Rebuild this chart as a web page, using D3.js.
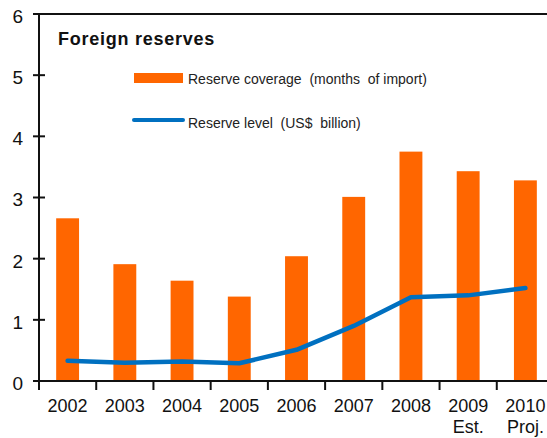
<!DOCTYPE html>
<html>
<head>
<meta charset="utf-8">
<script src="https://cdn.jsdelivr.net/npm/d3@7"></script>
<style>
  html, body { margin: 0; padding: 0; background: #fff; }
  svg { display: block; font-family: "Liberation Sans", Arial, sans-serif; }
</style>
</head>
<body>
<svg id="chart" width="547" height="438"></svg>
<script>
// Foreign reserves: import coverage (bars) and reserve level (line)
const years = ["2002", "2003", "2004", "2005", "2006", "2007", "2008", "2009", "2010"];
const yearNotes = ["", "", "", "", "", "", "", "Est.", "Proj."];
const coverage = [2.66, 1.91, 1.64, 1.38, 2.04, 3.01, 3.75, 3.43, 3.28];
const level = [0.33, 0.30, 0.32, 0.29, 0.51, 0.90, 1.37, 1.40, 1.52];
const yTicks = [0, 1, 2, 3, 4, 5, 6];

const svg = d3.select("#chart");
const plotLeft = 39, plotRight = 554, plotTop = 14, plotBottom = 381;

const x = d3.scaleBand().domain(years).range([plotLeft, plotRight]).paddingInner(0).paddingOuter(0);
const y = d3.scaleLinear().domain([0, 6]).range([plotBottom, plotTop]);
const barW = x.bandwidth() * 0.4;

// top frame line
svg.append("line")
  .attr("x1", plotLeft).attr("x2", 547).attr("y1", plotTop).attr("y2", plotTop)
  .attr("stroke", "#111").attr("stroke-width", 2);

// bars
svg.append("g").selectAll("rect").data(years).join("rect")
  .attr("x", (d) => x(d) + x.bandwidth() / 2 - barW / 2)
  .attr("width", barW)
  .attr("y", (d, i) => y(coverage[i]))
  .attr("height", (d, i) => y(0) - y(coverage[i]))
  .attr("fill", "#FF6600");

// x axis
const xAxis = svg.append("g").attr("transform", `translate(0,${plotBottom})`);
xAxis.append("line").attr("x1", plotLeft).attr("x2", 547).attr("y1", 0).attr("y2", 0)
  .attr("stroke", "#111").attr("stroke-width", 2);
const xTickPos = years.map((d) => x(d)).concat([x(years[years.length - 1]) + x.bandwidth()]);
xAxis.selectAll("line.tick").data(xTickPos).join("line").attr("class", "tick")
  .attr("x1", (d) => d).attr("x2", (d) => d).attr("y1", 0).attr("y2", 9)
  .attr("stroke", "#111").attr("stroke-width", 2);
xAxis.selectAll("text.yr").data(years).join("text").attr("class", "yr")
  .attr("x", (d) => x(d) + x.bandwidth() / 2).attr("y", 31)
  .attr("text-anchor", "middle").attr("font-size", 18).attr("fill", "#111")
  .text((d) => d);
xAxis.selectAll("text.note").data(years).join("text").attr("class", "note")
  .attr("x", (d) => x(d) + x.bandwidth() / 2).attr("y", 52)
  .attr("text-anchor", "middle").attr("font-size", 18).attr("fill", "#111")
  .text((d, i) => yearNotes[i]);

// y axis
const yAxis = svg.append("g");
yAxis.append("line").attr("x1", plotLeft).attr("x2", plotLeft).attr("y1", plotTop).attr("y2", plotBottom + 9)
  .attr("stroke", "#111").attr("stroke-width", 2);
yAxis.selectAll("line.tick").data(yTicks).join("line").attr("class", "tick")
  .attr("x1", plotLeft - 6).attr("x2", plotLeft + 6).attr("y1", (d) => y(d)).attr("y2", (d) => y(d))
  .attr("stroke", "#111").attr("stroke-width", 2);
yAxis.selectAll("text").data(yTicks).join("text")
  .attr("x", 23).attr("y", (d) => y(d) + 2).attr("dy", "0.36em")
  .attr("text-anchor", "end").attr("font-size", 19).attr("fill", "#111")
  .text((d) => d);

// reserve level line
const line = d3.line()
  .x((d, i) => x(years[i]) + x.bandwidth() / 2)
  .y((d) => y(d));
svg.append("path").datum(level)
  .attr("d", line).attr("fill", "none")
  .attr("stroke", "#0070C0").attr("stroke-width", 4.5)
  .attr("stroke-linecap", "round").attr("stroke-linejoin", "round");

// title
svg.append("text").attr("x", 58).attr("y", 45)
  .attr("font-size", 18).attr("font-weight", "bold").attr("fill", "#111")
  .attr("letter-spacing", 0.75)
  .text("Foreign reserves");

// legend
svg.append("rect").attr("x", 134).attr("y", 73).attr("width", 49).attr("height", 10)
  .attr("fill", "#FF6600");
svg.append("text").attr("x", 188).attr("y", 83.5)
  .attr("font-size", 14).attr("fill", "#222").style("white-space", "pre")
  .text("Reserve coverage  (months  of import)");
svg.append("line").attr("x1", 134).attr("x2", 183).attr("y1", 120).attr("y2", 120)
  .attr("stroke", "#0070C0").attr("stroke-width", 4).attr("stroke-linecap", "round");
svg.append("text").attr("x", 188).attr("y", 128)
  .attr("font-size", 14).attr("fill", "#222").style("white-space", "pre")
  .text("Reserve level  (US$  billion)");
</script>
</body>
</html>
